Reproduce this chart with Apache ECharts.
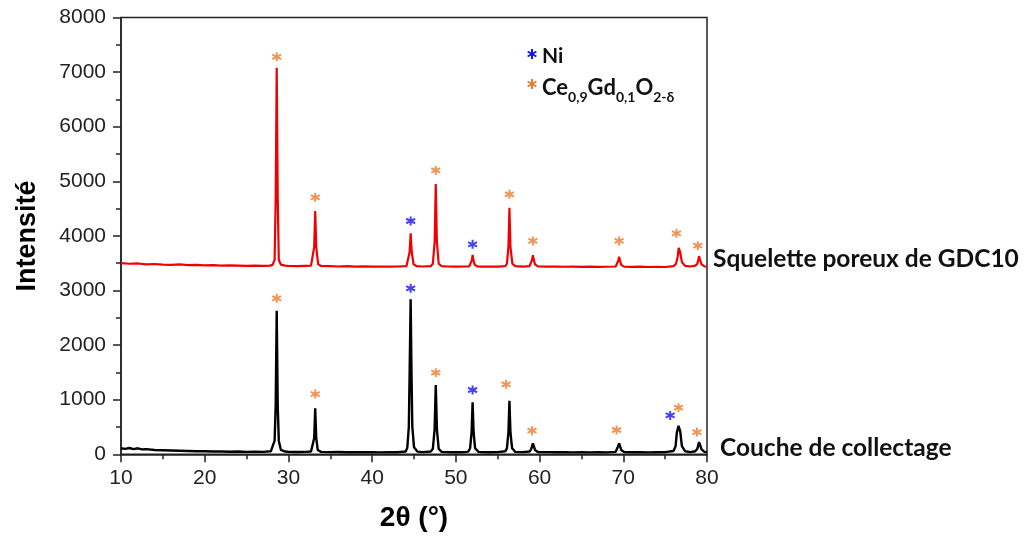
<!DOCTYPE html>
<html><head><meta charset="utf-8">
<script src="https://cdn.jsdelivr.net/npm/echarts@6/dist/echarts.min.js"></script>
<style>html,body{margin:0;padding:0;background:#fff}#c{width:1027px;height:540px}</style>
</head><body><div id="c"></div>
<script>
// 2θ (°), intensity — GDC10 porous skeleton (red, offset)
const squelette = [
[10,3500],[11,3490],[12,3495],[13,3480],[14,3485],[15,3475],[16,3470],[17,3478],[18,3465],[19,3470],[20,3460],[21,3465],[22,3455],[23,3460],[24,3455],[25,3450],[26,3455],[27,3450],[27.8,3455],
[28.1,3470],[28.35,3560],[28.48,4700],[28.6,7080],[28.72,4700],[28.85,3560],[29.1,3475],[29.6,3455],
[30,3450],[31,3448],[32,3452],[32.7,3455],
[32.85,3480],[33.08,3800],[33.2,4456],[33.32,3800],[33.55,3480],[33.9,3450],
[35,3448],[36,3440],[37,3445],[38,3438],[39,3442],[40,3436],[41,3440],[42,3436],[43,3440],[44.1,3445],
[44.25,3480],[44.47,3700],[44.6,4047],[44.73,3700],[44.95,3480],[45.3,3445],
[46,3440],[47,3445],
[47.25,3490],[47.47,3900],[47.6,4950],[47.73,3900],[47.95,3490],[48.3,3445],
[49,3440],[50,3438],[51,3440],[51.6,3442],
[51.8,3470],[51.92,3560],[52.0,3650],[52.1,3560],[52.25,3470],[52.6,3440],
[53,3438],[54,3440],[55,3436],[55.9,3445],
[56.1,3490],[56.28,3800],[56.4,4517],[56.52,3800],[56.75,3490],[57.1,3445],
[58,3438],[58.8,3445],
[59.0,3480],[59.12,3570],[59.2,3645],[59.3,3570],[59.45,3480],[59.8,3440],
[61,3436],[62,3440],[63,3435],[64,3438],[65,3432],[66,3436],[67,3432],[68,3435],[69.1,3440],
[69.3,3470],[69.42,3555],[69.5,3620],[69.6,3555],[69.75,3470],[70.1,3438],
[71,3432],[72,3436],[73,3430],[74,3434],[75,3430],[76.0,3445],
[76.3,3490],[76.5,3620],[76.62,3780],[76.7,3815],[76.8,3700],[77.0,3520],[77.4,3450],
[78,3440],[78.6,3455],
[78.85,3490],[78.97,3570],[79.05,3630],[79.15,3570],[79.35,3480],[79.7,3440],[80,3435]
];
// collecting layer (black)
const couche = [
[10,110],[10.5,100],[11,115],[11.5,95],[12,110],[12.5,90],[13,95],[14,80],[15,75],[16,70],[17,65],[18,60],[19,55],[20,55],[21,50],[22,52],[23,48],[24,50],[25,45],[26,48],[27,45],[27.9,55],
[28.1,80],[28.35,250],[28.48,900],[28.6,2630],[28.72,900],[28.85,250],[29.1,80],[29.6,50],
[30,45],[31,42],[32,45],[32.7,50],
[32.9,80],[33.08,300],[33.2,842],[33.32,300],[33.5,80],[33.9,45],
[35,40],[36,42],[37,38],[38,40],[39,38],[40,40],[41,36],[42,40],[43,38],[44,50],
[44.2,120],[44.38,500],[44.48,1500],[44.6,2838],[44.7,1500],[44.8,500],[45.0,130],[45.4,50],
[46,40],[47,50],
[47.25,100],[47.46,450],[47.6,1270],[47.74,450],[47.95,100],[48.3,45],
[49,40],[50,38],[51,40],[51.5,50],
[51.7,110],[51.88,400],[52.0,952],[52.12,400],[52.3,110],[52.7,45],
[53,40],[54,38],[55,40],[55.9,55],
[56.1,110],[56.28,400],[56.4,982],[56.52,400],[56.72,110],[57.1,45],
[58,40],[58.8,50],
[59.0,90],[59.12,160],[59.2,200],[59.3,160],[59.45,80],[59.8,42],
[61,40],[62,38],[63,40],[64,36],[65,38],[66,35],[67,38],[68,36],[69.1,45],
[69.3,80],[69.42,160],[69.5,200],[69.6,160],[69.75,80],[70.1,42],
[71,38],[72,40],[73,36],[74,38],[75,40],[76.0,60],
[76.25,150],[76.4,400],[76.5,430],[76.6,520],[76.7,550],[76.8,420],[77.0,150],[77.4,55],
[78,40],[78.6,55],
[78.85,100],[78.97,180],[79.05,225],[79.15,180],[79.35,90],[79.7,45],[80,40]
];
// peak markers
const gdcMarks = [
[28.6,7280],[33.2,4707],[47.6,5200],[56.4,4762],[59.2,3907],[69.5,3907],[76.35,4048],[78.9,3820],
[28.6,2857],[33.2,1104],[47.6,1494],[56.0,1282],[59.1,432],[69.2,445],[76.6,853],[78.8,408]
];
const niMarks = [
[44.6,4273],[52.0,3846],
[44.6,3040],[52.0,1178],[75.6,712]
];
const yTicks = [0,1000,2000,3000,4000,5000,6000,7000,8000];
const xTicks = [10,20,30,40,50,60,70,80];
const seriesNames = ['Squelette poreux de GDC10','Couche de collectage'];

const star = 'path://M0,-5L0,5M-4.33,-2.5L4.33,2.5M-4.33,2.5L4.33,-2.5';
const ORANGE = '#EC7A2C', BLUE = '#1414F0';
const axisCol = '#222';
function starGroup(x, y, color){
  const s = {stroke:color, lineWidth:2};
  return {type:'group', x:x, y:y, children:[
    {type:'line', shape:{x1:0,y1:-5,x2:0,y2:5}, style:s},
    {type:'line', shape:{x1:-4.33,y1:-2.5,x2:4.33,y2:2.5}, style:s},
    {type:'line', shape:{x1:-4.33,y1:2.5,x2:4.33,y2:-2.5}, style:s}
  ]};
}
const chart = echarts.init(document.getElementById('c'), null, {renderer:'canvas'});
chart.setOption({
  animation:false,
  backgroundColor:'#fff',
  grid:{left:121,right:320,top:17.5,bottom:85.7,show:true,borderColor:axisCol,borderWidth:1.5,backgroundColor:'transparent'},
  xAxis:{type:'value',min:xTicks[0],max:xTicks[xTicks.length-1],interval:10,
    name:'2θ (°)',nameLocation:'middle',nameGap:50,
    nameTextStyle:{fontFamily:'Liberation Sans',fontWeight:'bold',fontSize:28,color:'#000'},
    axisLine:{lineStyle:{color:axisCol,width:1.5}},
    axisTick:{show:true,inside:false,length:8,lineStyle:{color:axisCol,width:1.5}},
    minorTick:{show:true,splitNumber:2,length:5,lineStyle:{color:axisCol,width:1.5}},
    splitLine:{show:false},
    axisLabel:{fontFamily:'Liberation Sans',fontSize:21,color:'#222',margin:13,formatter:v=>String(v)}},
  yAxis:{type:'value',min:yTicks[0],max:yTicks[yTicks.length-1],interval:1000,
    name:'Intensité',nameLocation:'middle',nameGap:80,nameRotate:90,
    nameTextStyle:{fontFamily:'Liberation Sans',fontWeight:'bold',fontSize:27,color:'#000'},
    axisLine:{show:true,lineStyle:{color:axisCol,width:1.5}},
    axisTick:{show:true,inside:false,length:8,lineStyle:{color:axisCol,width:1.5}},
    minorTick:{show:true,splitNumber:2,length:5,lineStyle:{color:axisCol,width:1.5}},
    splitLine:{show:false},
    axisLabel:{fontFamily:'Liberation Sans',fontSize:21,color:'#222',margin:15,formatter:v=>String(v)}},
  series:[
    {name:seriesNames[0],type:'line',data:squelette,showSymbol:false,symbol:'none',
     lineStyle:{color:'#F00000',width:2.2},z:3},
    {name:seriesNames[1],type:'line',data:couche,showSymbol:false,symbol:'none',
     lineStyle:{color:'#000',width:2.4},z:3},
    {type:'scatter',data:gdcMarks,symbol:star,symbolSize:9,
     itemStyle:{color:'transparent',borderColor:ORANGE,borderWidth:2},z:4},
    {type:'scatter',data:niMarks,symbol:star,symbolSize:9,
     itemStyle:{color:'transparent',borderColor:BLUE,borderWidth:2},z:4}
  ],
  graphic:[
    {type:'text',x:713,y:259,style:{text:seriesNames[0],font:'bold 24.5px Lato',fill:'#111',verticalAlign:'middle'}},
    {type:'text',x:720,y:448,style:{text:seriesNames[1],font:'bold 24.5px Lato',fill:'#111',verticalAlign:'middle'}},
    starGroup(532,54,BLUE),
    starGroup(532,84,ORANGE),
    {type:'text',x:542,y:56,style:{text:'Ni',font:'bold 21px Lato',fill:'#111',verticalAlign:'middle'}},
    {type:'text',x:542,y:86,style:{
      text:'{m|Ce}{s|0,9}{m|Gd}{s|0,1}{m|O}{s|2-δ}',verticalAlign:'middle',
      rich:{m:{font:'bold 22px Lato',fill:'#111',lineHeight:26,verticalAlign:'bottom'},
            s:{font:'bold 14px Lato',fill:'#111',lineHeight:26,verticalAlign:'bottom',padding:[0,0,-5,0]}}}}
  ]
});
</script></body></html>
